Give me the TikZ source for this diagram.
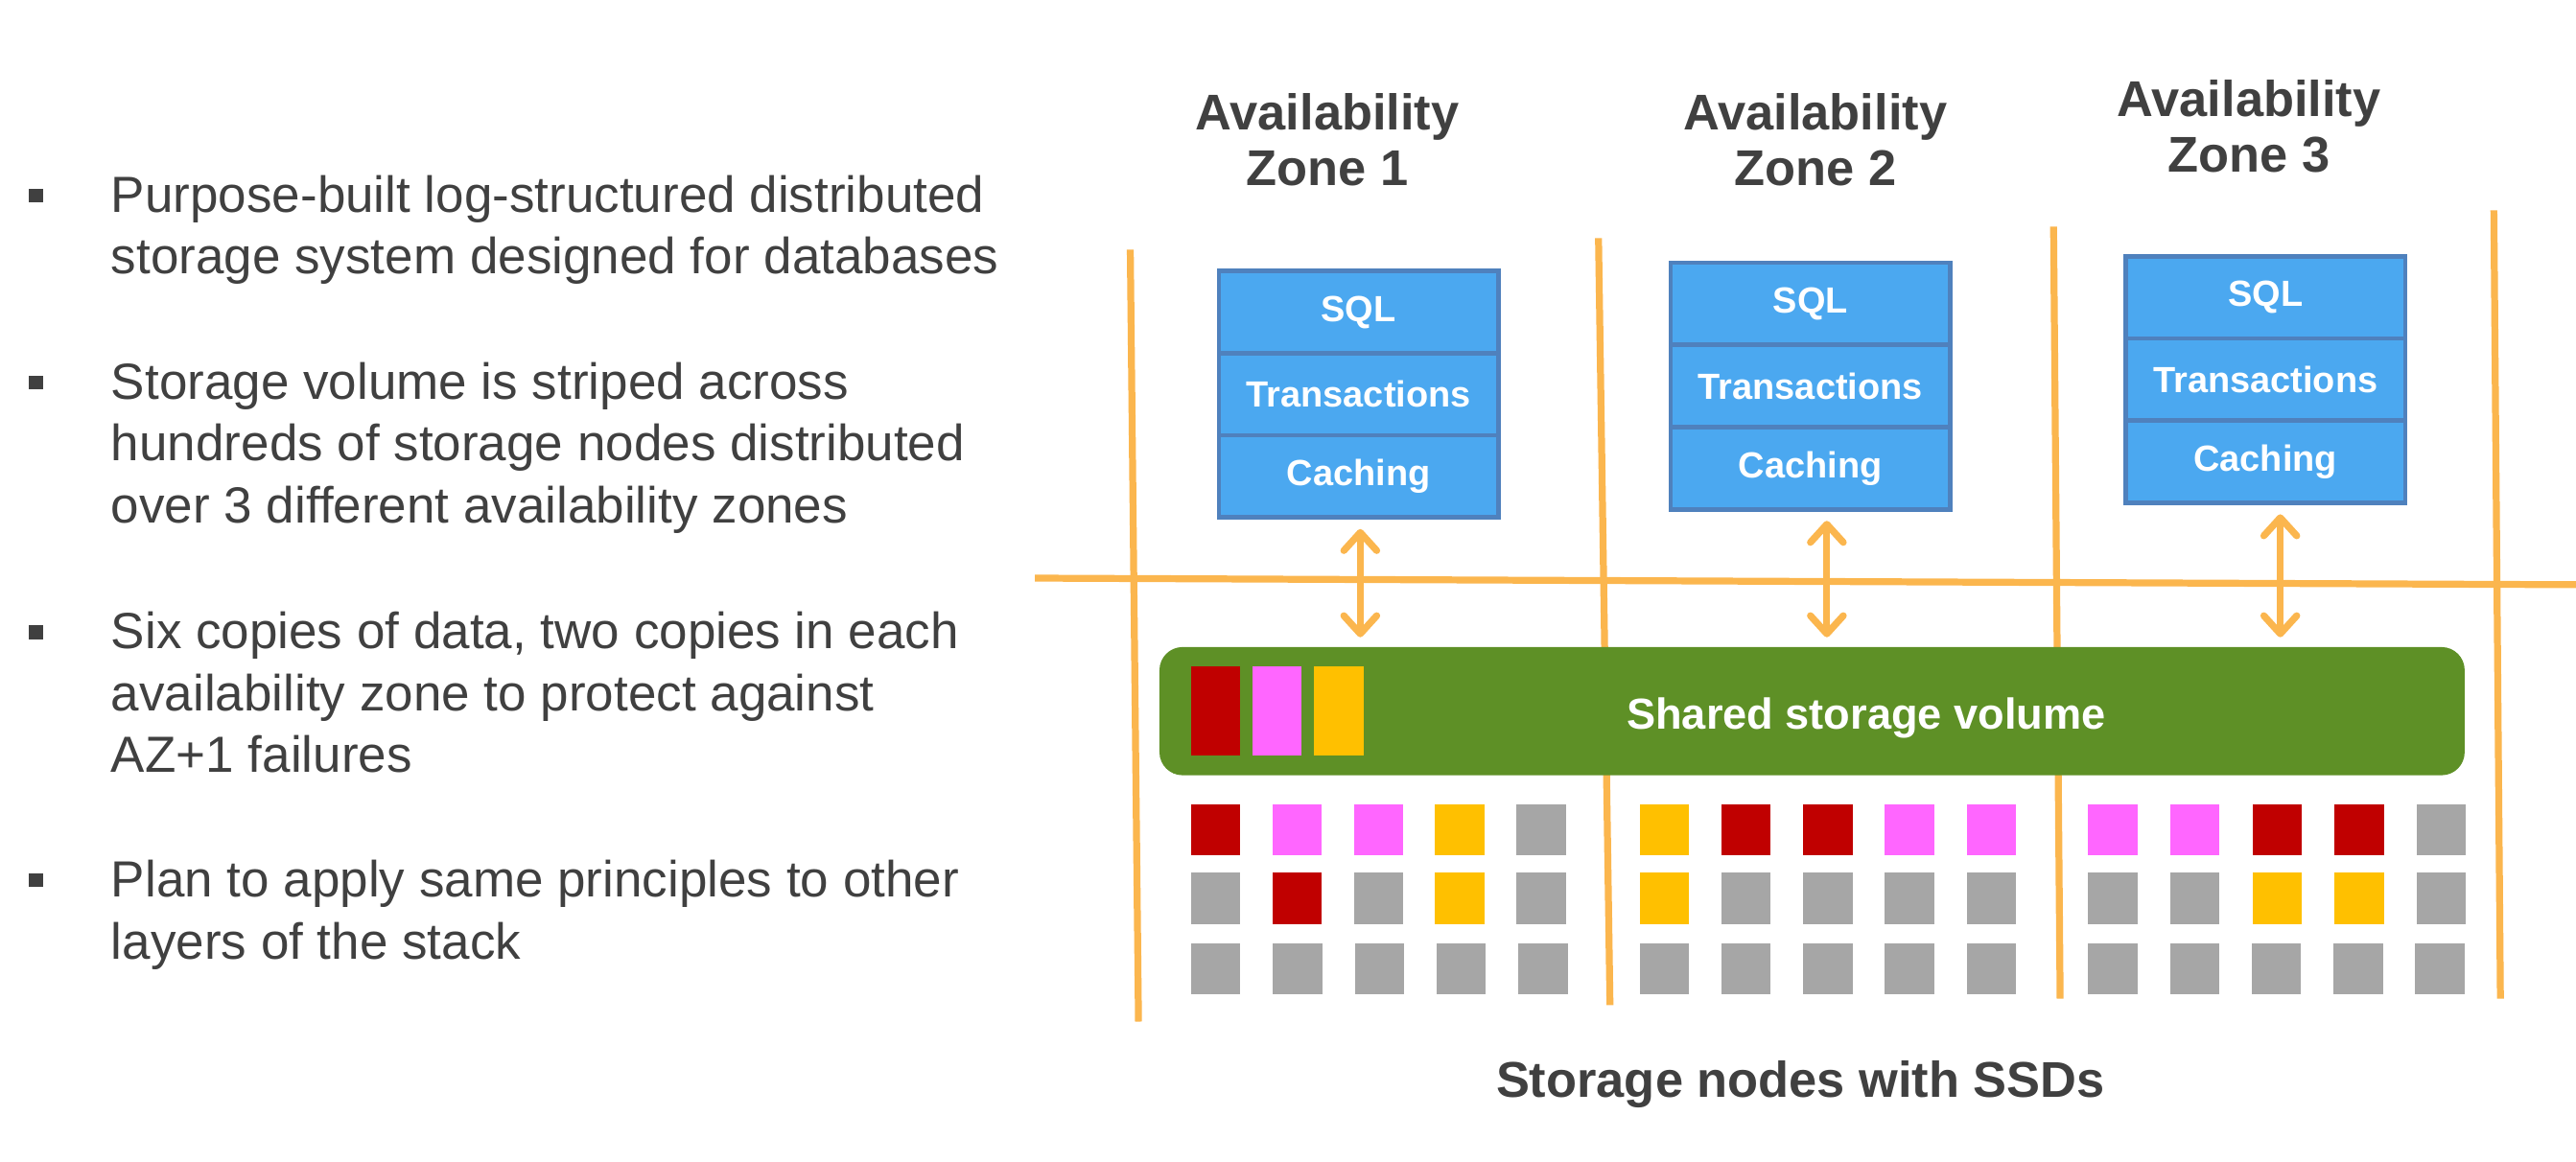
\documentclass[tikz,border=0pt]{standalone}
\usepackage{fontspec}
\setmainfont{Liberation Sans}
\usepackage{tikz}
\usetikzlibrary{positioning, arrows.meta}

\definecolor{textgray}{RGB}{64,64,64}
\definecolor{azorange}{RGB}{251,182,78}
\definecolor{stackblue}{RGB}{75,168,240}
\definecolor{stackedge}{RGB}{79,129,189}
\definecolor{volgreen}{RGB}{94,144,38}
\definecolor{cred}{RGB}{192,0,0}
\definecolor{cpink}{RGB}{255,102,255}
\definecolor{cyellow}{RGB}{255,192,0}
\definecolor{cgray}{RGB}{166,166,166}

\begin{document}
\begin{tikzpicture}[
    x=0.01cm, y=-0.01cm,
    bullettext/.style={anchor=north west, inner sep=0, align=left, text=textgray,
        font=\fontsize{8.8}{10.7}\selectfont},
    bulletmark/.style={fill=textgray, minimum size=0.085cm, inner sep=0},
    zonehead/.style={align=center, inner sep=0, text=textgray,
        font=\bfseries\fontsize{8.7}{9.7}\selectfont},
    layer/.style={draw=stackedge, fill=stackblue, line width=0.8pt, outer sep=0,
        minimum width=1.7cm, minimum height=0.5cm, inner sep=0, text=white,
        font=\bfseries\fontsize{6.3}{7}\selectfont},
    azline/.style={azorange, line width=1.2pt},
    biarrow/.style={azorange, line width=1.2pt, line cap=round,
        {Straight Barb[length=0.11cm, width=0.2cm, line join=round, line cap=round]}-{Straight Barb[length=0.11cm, width=0.2cm, line join=round, line cap=round]}},
    volume/.style={fill=volgreen, rounded corners=0.14cm, minimum width=7.94cm,
        minimum height=0.78cm, inner sep=0},
    chunk/.style={minimum width=0.3cm, minimum height=0.54cm, inner sep=0},
    ssd/.style={minimum width=0.3cm, minimum height=0.31cm, inner sep=0}
]
\useasboundingbox (0,0) rectangle (1568,707.5);

% Bullet list
\node[bulletmark] (m1) at (22,119) {};
\node[bullettext] (b1) at (67,106) {Purpose-built log-structured distributed\\storage system designed for databases};
\node[bulletmark] (m2) at (22,233) {};
\node[bullettext] (b2) at (67,220) {Storage volume is striped across\\hundreds of storage nodes distributed\\over 3 different availability zones};
\node[bulletmark] (m3) at (22,385) {};
\node[bullettext] (b3) at (67,372) {Six copies of data, two copies in each\\availability zone to protect against\\AZ+1 failures};
\node[bulletmark] (m4) at (22,536) {};
\node[bullettext] (b4) at (67,523) {Plan to apply same principles to other\\layers of the stack};

% Zone headers
\node[zonehead] (z1) at (808,85) {Availability\\Zone 1};
\node[zonehead] (z2) at (1105,85) {Availability\\Zone 2};
\node[zonehead] (z3) at (1369,77) {Availability\\Zone 3};

% Zone borders
\draw[azline] (688,152) -- (693,622);
\draw[azline] (973,145) -- (980,612);
\draw[azline] (1250,138) -- (1254,608);
\draw[azline] (1518,128) -- (1522,608);
\draw[azline] (630,352) -- (1568,356);

% Database stacks
\node[layer] (sql1) at (827,190) {SQL};
\node[layer, below=0pt of sql1] (tr1) {Transactions};
\node[layer, below=0pt of tr1] (ca1) {Caching};
\node[layer] (sql2) at (1102,185) {SQL};
\node[layer, below=0pt of sql2] (tr2) {Transactions};
\node[layer, below=0pt of tr2] (ca2) {Caching};
\node[layer] (sql3) at (1379,181) {SQL};
\node[layer, below=0pt of sql3] (tr3) {Transactions};
\node[layer, below=0pt of tr3] (ca3) {Caching};

% Shared volume
\node[volume] (vol) at (1103,433) {};
\node[text=white, font=\bfseries\fontsize{7.5}{9}\selectfont] (voltext) at (1136,437) {Shared storage volume};
\node[chunk, fill=cred] (v1) at (740,433) {};
\node[chunk, fill=cpink, right=0.06cm of v1] (v2) {};
\node[chunk, fill=cyellow, right=0.06cm of v2] (v3) {};

% Arrows between stacks and volume
\coordinate (t1) at ([xshift=0.01cm]ca1.south);
\coordinate (t2) at ([xshift=0.1cm]ca2.south);
\coordinate (t3) at ([xshift=0.09cm]ca3.south);
\draw[biarrow, shorten <=2pt, shorten >=1.5pt] (t1) -- (t1 |- vol.north);
\draw[biarrow, shorten <=2pt, shorten >=1.5pt] (t2) -- (t2 |- vol.north);
\draw[biarrow, shorten <=2pt, shorten >=1.5pt] (t3) -- (t3 |- vol.north);

% Storage nodes
\foreach \c [count=\i from 0] in {cred,cpink,cpink,cyellow,cgray}
  \node[ssd, fill=\c] (s1-1-\i) at (740+49.5*\i,505) {};
\foreach \c [count=\i from 0] in {cgray,cred,cgray,cyellow,cgray}
  \node[ssd, fill=\c] (s1-2-\i) at (740+49.5*\i,547) {};
\foreach \c [count=\i from 0] in {cyellow,cred,cred,cpink,cpink}
  \node[ssd, fill=\c] (s2-1-\i) at (1013+49.8*\i,505) {};
\foreach \c [count=\i from 0] in {cyellow,cgray,cgray,cgray,cgray}
  \node[ssd, fill=\c] (s2-2-\i) at (1013+49.8*\i,547) {};
\foreach \c [count=\i from 0] in {cpink,cpink,cred,cred,cgray}
  \node[ssd, fill=\c] (s3-1-\i) at (1286+50*\i,505) {};
\foreach \c [count=\i from 0] in {cgray,cgray,cyellow,cyellow,cgray}
  \node[ssd, fill=\c] (s3-2-\i) at (1286+50*\i,547) {};
\foreach \zx [count=\z] in {740,1013,1286}
  \foreach \i in {0,...,4}
    \node[ssd, fill=cgray] (s\z-3-\i) at (\zx+49.8*\i,590) {};

\node[text=textgray, font=\bfseries\fontsize{8.7}{10}\selectfont] (caption) at (1096,660) {Storage nodes with SSDs};

\end{tikzpicture}
\end{document}
